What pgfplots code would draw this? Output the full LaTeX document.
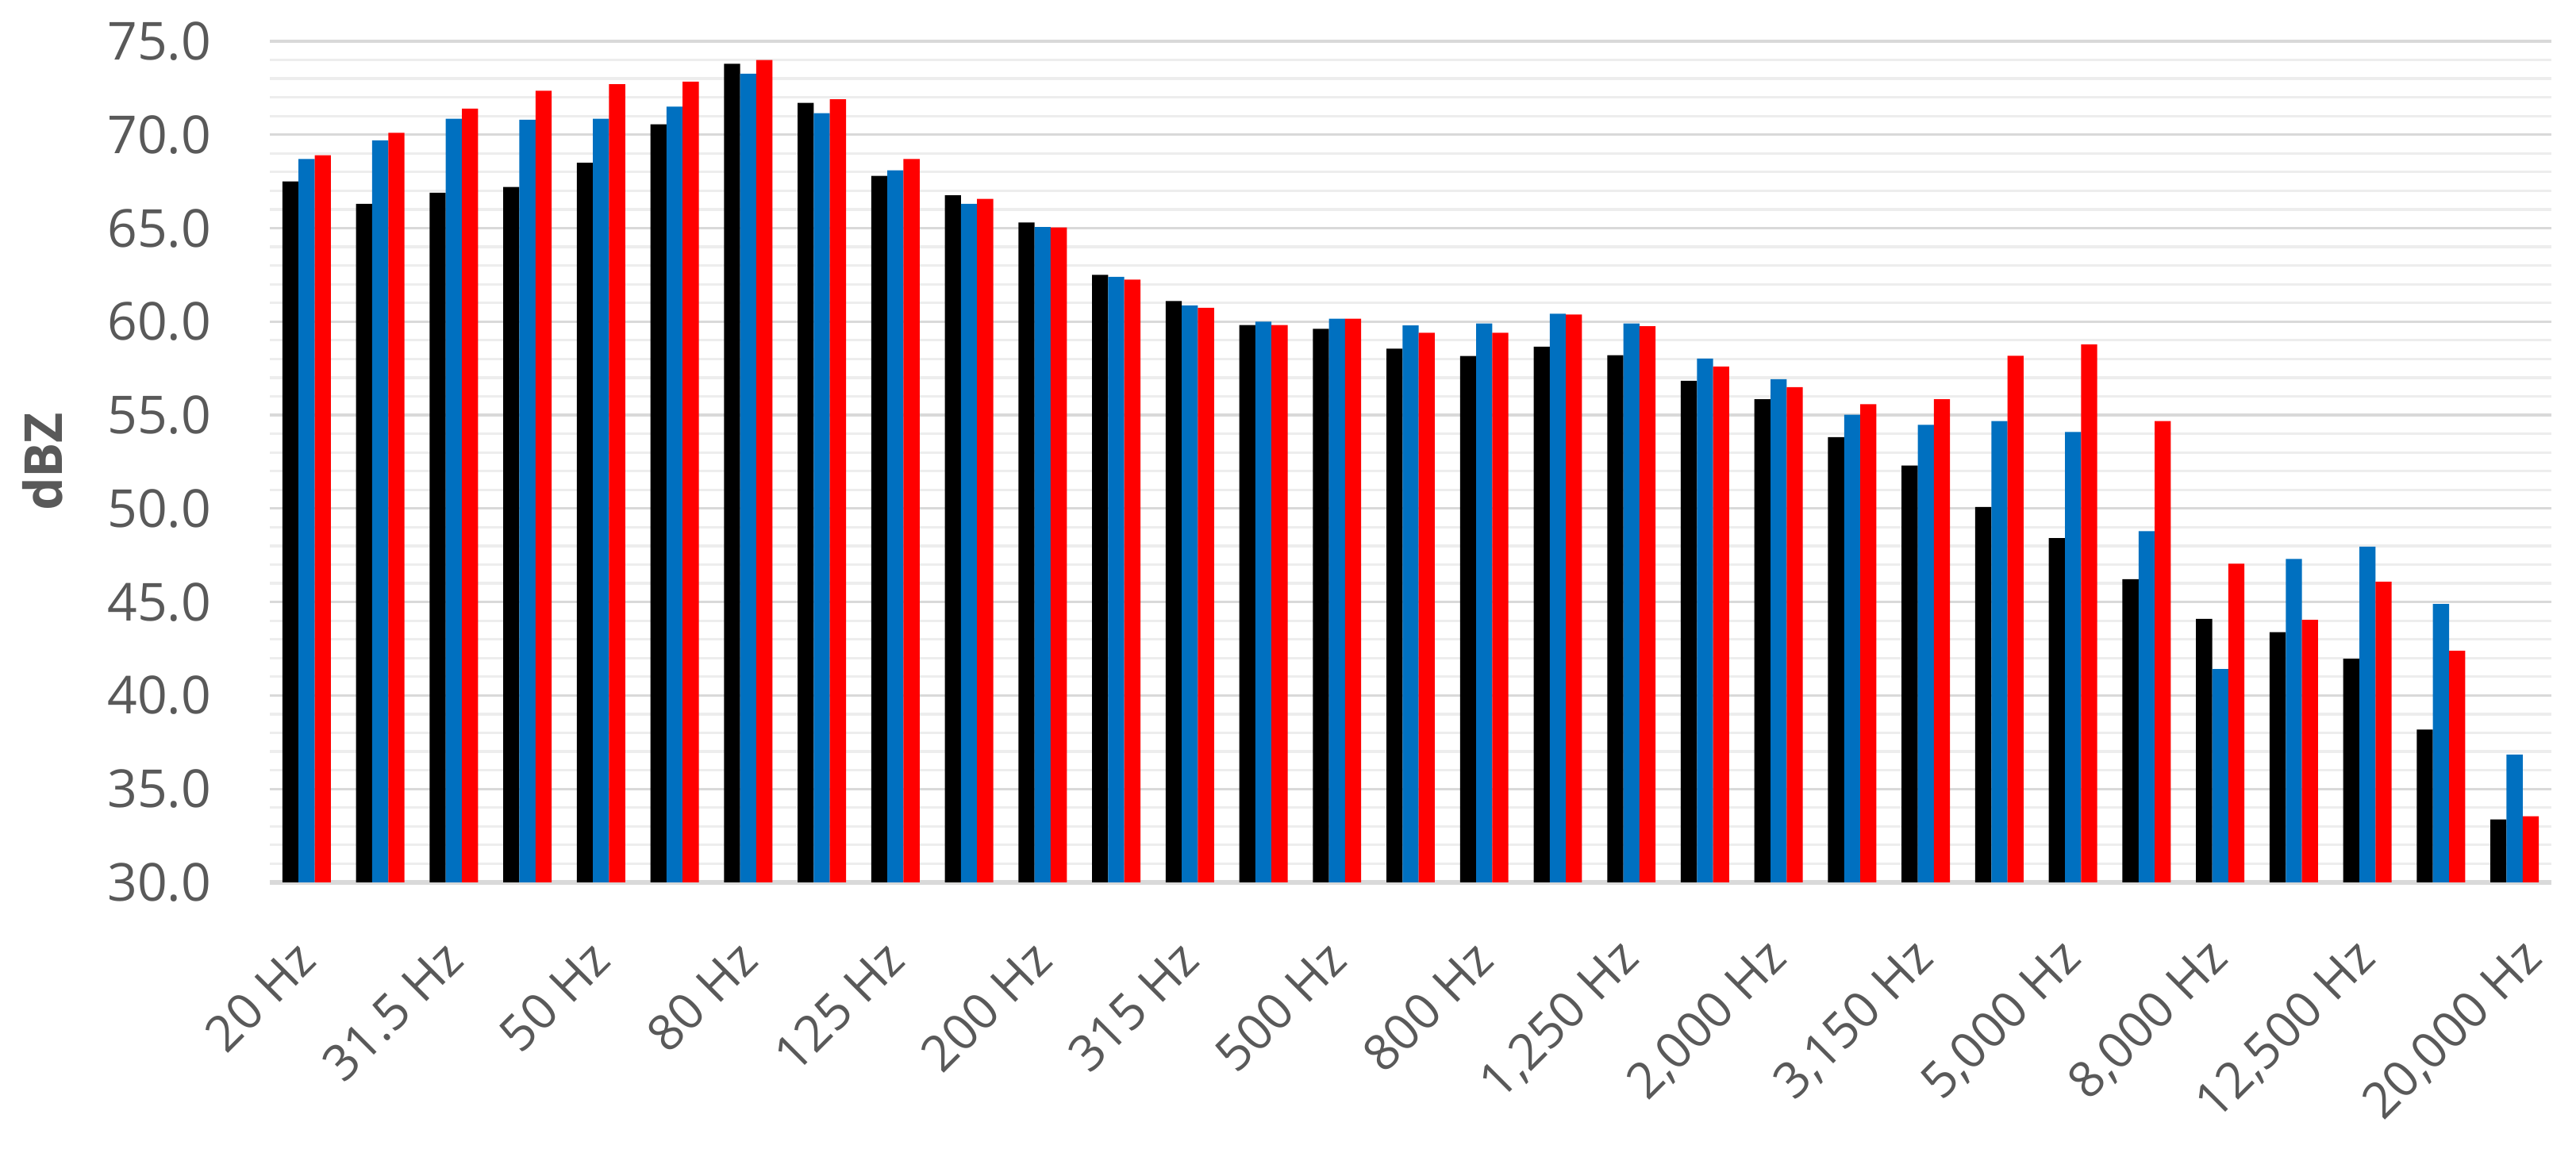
\documentclass[border=0pt]{standalone}
\usepackage{fontspec}
\setmainfont{Open Sans}
\usepackage{pgfplots}
\usepackage{pgfplotstable}
\pgfplotsset{compat=1.18}
\definecolor{txtgray}{HTML}{595959}
\definecolor{majgrid}{HTML}{D9D9D9}
\definecolor{mingrid}{HTML}{EDEDED}
\definecolor{barblue}{HTML}{0070C0}
\definecolor{barred}{HTML}{FF0000}

% one row per third-octave band, 20 Hz ... 20 kHz
\pgfplotstableread{
idx black blue  red
0   67.5  68.7  68.9
1   66.3  69.7  70.1
2   66.9  70.85 71.4
3   67.2  70.8  72.35
4   68.5  70.85 72.7
5   70.56 71.5  72.84
6   73.8  73.26 74.0
7   71.7  71.15 71.9
8   67.8  68.1  68.7
9   66.76 66.3  66.57
10  65.3  65.06 65.04
11  62.5  62.4  62.25
12  61.1  60.87 60.74
13  59.82 60.0  59.82
14  59.62 60.16 60.16
15  58.55 59.8  59.4
16  58.16 59.9  59.4
17  58.66 60.42 60.38
18  58.2  59.9  59.75
19  56.83 58.02 57.6
20  55.85 56.92 56.5
21  53.82 55.02 55.58
22  52.3  54.48 55.85
23  50.08 54.68 58.17
24  48.42 54.1  58.78
25  46.22 48.79 54.68
26  44.1  41.41 47.05
27  43.39 47.3  44.05
28  41.97 47.96 46.08
29  38.18 44.9  42.39
30  33.37 36.84 33.54
}\bands

\begin{document}
\begin{tikzpicture}
\path[use as bounding box] (-85pt,-85.25pt) rectangle (726.5pt,278pt);
\begin{axis}[
  at={(0,0)}, anchor=south west,
  scale only axis,
  width=718.75pt, height=265pt,
  ybar=0pt, bar width=5.08pt,
  xmin=-0.5, xmax=30.5,
  ymin=30, ymax=75,
  ytick={30,35,...,75},
  minor y tick num=4,
  ymajorgrids, yminorgrids,
  major grid style={draw=majgrid, line width=0.8pt},
  minor grid style={draw=mingrid, line width=0.8pt},
  axis x line*=bottom, axis y line*=left,
  x axis line style={draw=majgrid, line width=1.3pt, -},
  y axis line style={draw=none},
  tick style={draw=none},
  xtick={0,2,...,30},
  xticklabels={20 Hz, 31.5 Hz, 50 Hz, 80 Hz, 125 Hz, 200 Hz, 315 Hz, 500 Hz,
    800 Hz, {1,250 Hz}, {2,000 Hz}, {3,150 Hz}, {5,000 Hz}, {8,000 Hz},
    {12,500 Hz}, {20,000 Hz}},
  yticklabel style={font=\fontsize{16.5}{19.8}\selectfont, text=txtgray,
    anchor=east, inner sep=0pt},
  yticklabel shift=18.25pt,
  xticklabel style={font=\fontsize{15.7}{18.8}\selectfont, text=txtgray,
    rotate=45, anchor=east, inner sep=0pt,
    xshift={ifthenelse(\ticknum==15,4.4,0)*1pt},
    yshift={ifthenelse(\ticknum==15,-4.4,0)*1pt}},
  xticklabel shift=17pt,
  /pgf/number format/.cd, fixed, fixed zerofill, precision=1, assume math mode=true,
  /pgfplots/.cd,
  ylabel={dBZ},
  every axis y label/.style={at={(axis description cs:-0.0911,0.5)}, anchor=base, rotate=90,
    font=\fontsize{16.5}{19.8}\selectfont\bfseries, text=txtgray, inner sep=0pt},
]
\addplot[fill=black, draw=none] table[x=idx, y=black] {\bands};
\addplot[fill=barblue, draw=none] table[x=idx, y=blue] {\bands};
\addplot[fill=barred, draw=none] table[x=idx, y=red] {\bands};
\end{axis}
\end{tikzpicture}
\end{document}
